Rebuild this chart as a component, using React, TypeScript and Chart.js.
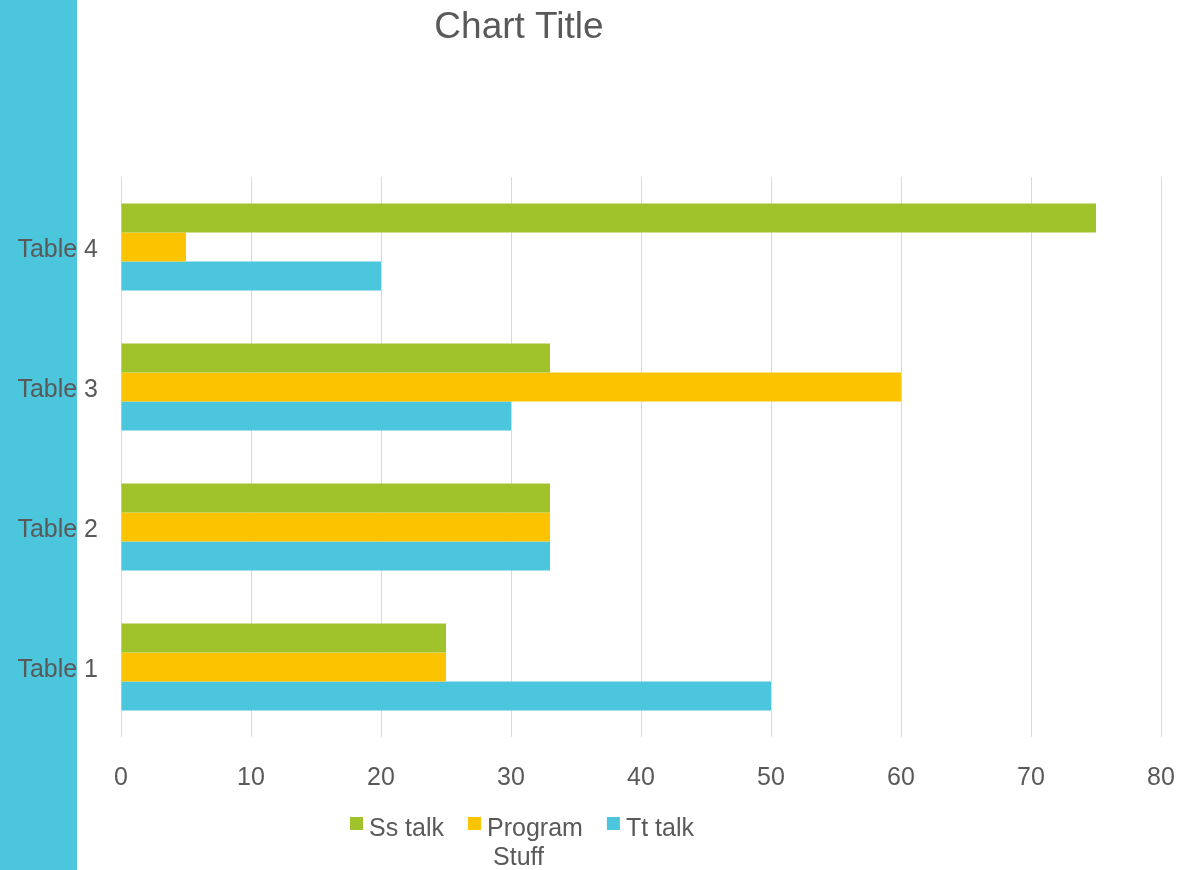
import React, { useEffect, useRef } from "react";
import { Chart, registerables } from "chart.js";

Chart.register(...registerables);

const chartTitle = "Chart Title";
const categories = ["Table 4", "Table 3", "Table 2", "Table 1"];
const seriesNames = ["Ss talk", "Program\nStuff", "Tt talk"];
const ssTalk = [75, 33, 33, 25];
const programStuff = [5, 60, 33, 25];
const ttTalk = [20, 30, 33, 50];
const colors = ["#A0C22B", "#FCC400", "#4BC6DC"];
const xMin = 0;
const xMax = 80;
const xStep = 10;

const FONT = '"Liberation Sans", Arial, sans-serif';
const TEXT = "#595959";

const decorPlugin = {
  id: "decor",
  afterDraw(chart: any) {
    const ctx = chart.ctx;
    ctx.save();
    // title
    ctx.fillStyle = TEXT;
    ctx.font = `37px ${FONT}`;
    ctx.textAlign = "center";
    ctx.textBaseline = "alphabetic";
    ctx.fillText(chartTitle, 519, 38);
    // legend
    ctx.font = `25px ${FONT}`;
    ctx.textAlign = "left";
    let x = 350;
    const baseline = 836;
    chart.data.datasets.forEach((ds: any) => {
      ctx.fillStyle = ds.backgroundColor;
      ctx.fillRect(x, 817, 13, 13);
      const lines = String(ds.label).split("\n");
      const tx = x + 19;
      let maxW = 0;
      ctx.fillStyle = TEXT;
      lines.forEach((ln: string, i: number) => {
        ctx.fillText(ln, tx + (i > 0 ? 6 : 0), baseline + i * 29);
        maxW = Math.max(maxW, ctx.measureText(ln).width);
      });
      x = tx + maxW + 24;
    });
    ctx.restore();
  },
};

function App() {
  const ref = useRef<HTMLCanvasElement | null>(null);
  useEffect(() => {
    if (!ref.current) return;
    const chart = new Chart(ref.current, {
      type: "bar",
      data: {
        labels: categories,
        datasets: [
          { label: seriesNames[0], data: ssTalk, backgroundColor: colors[0] },
          { label: seriesNames[1], data: programStuff, backgroundColor: colors[1] },
          { label: seriesNames[2], data: ttTalk, backgroundColor: colors[2] },
        ],
      },
      options: {
        indexAxis: "y",
        responsive: false,
        animation: false,
        datasets: { bar: { categoryPercentage: 0.62, barPercentage: 1 } },
        layout: { padding: { top: 177, right: 17, left: 0, bottom: 0 } },
        plugins: {
          legend: { display: false },
          title: { display: false },
          tooltip: { enabled: false },
        },
        scales: {
          x: {
            min: xMin,
            max: xMax,
            ticks: {
              stepSize: xStep,
              padding: 26,
              color: TEXT,
              font: { size: 25, family: FONT },
              maxRotation: 0,
            },
            grid: { color: "#D9D9D9", lineWidth: 1, drawTicks: false },
            border: { display: false },
            afterFit: (s: any) => {
              s.height = 133;
              s.paddingLeft = 0;
              s.paddingRight = 0;
            },
          },
          y: {
            ticks: {
              padding: 23,
              labelOffset: 3,
              color: TEXT,
              font: { size: 25, family: FONT },
            },
            grid: { display: false, drawTicks: false },
            border: { display: false },
            afterFit: (s: any) => {
              s.width = 121;
              s.paddingTop = 0;
              s.paddingBottom = 0;
            },
          },
        },
      },
      plugins: [decorPlugin],
    } as any);
    return () => chart.destroy();
  }, []);
  return (
    <div style={{ position: "fixed", left: 0, top: 0, width: 1178, height: 870, background: "#fff" }}>
      <div style={{ position: "absolute", left: 0, top: 0, width: 77, height: 870, background: "#4BC6DC" }} />
      <canvas ref={ref} width={1178} height={870} style={{ position: "absolute", left: 0, top: 0, width: 1178, height: 870 }} />
    </div>
  );
}

export default App;
